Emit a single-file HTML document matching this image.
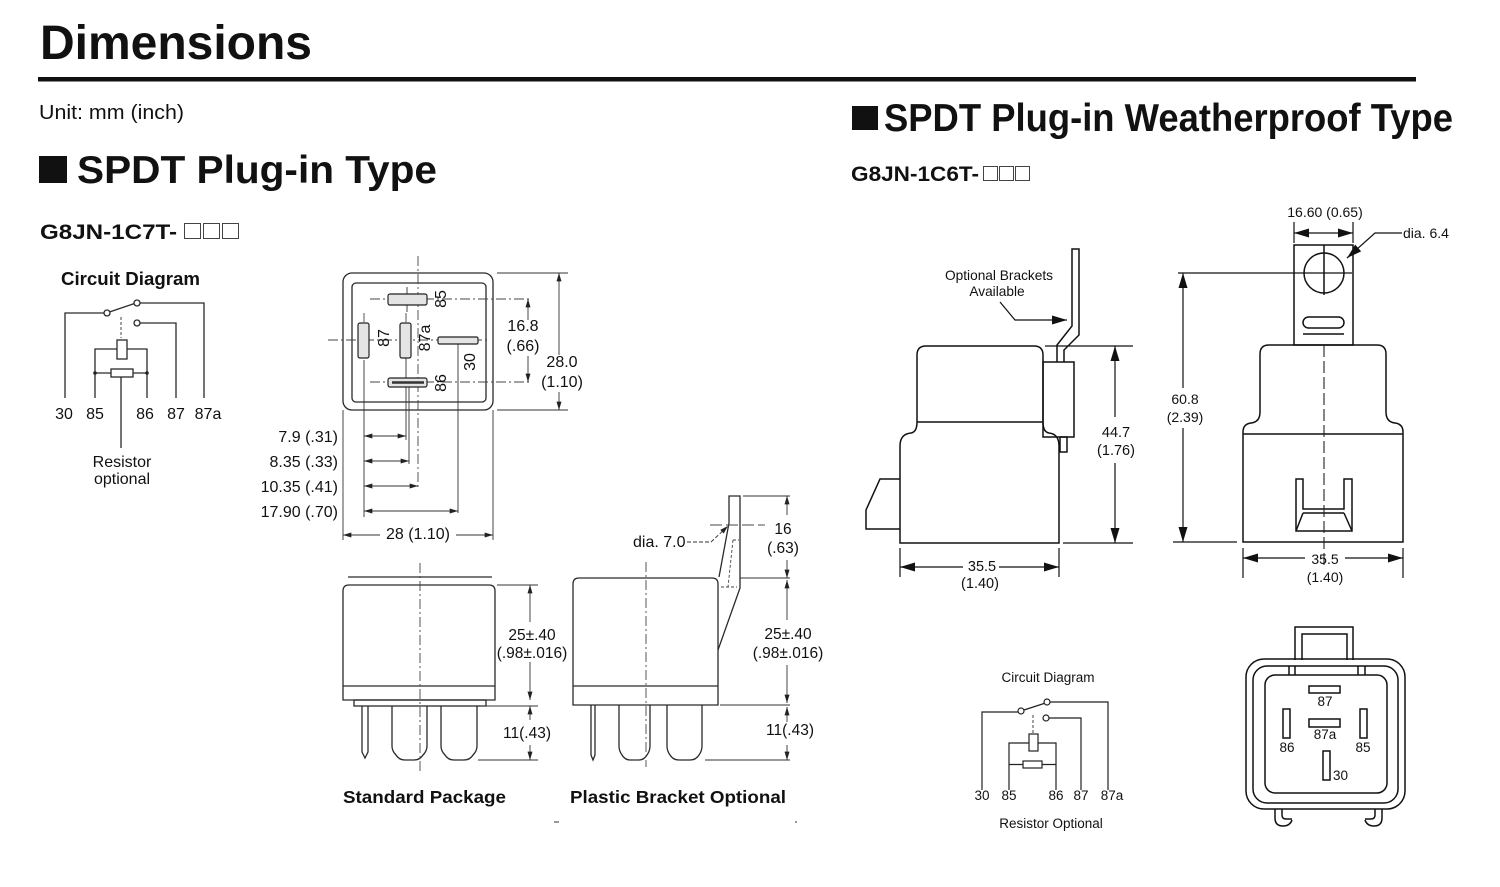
<!DOCTYPE html>
<html><head><meta charset="utf-8"><style>
html,body{margin:0;padding:0;background:#fff;}
svg{display:block;}
text{font-family:"Liberation Sans",Arial,sans-serif;fill:#111;}
.b{font-weight:bold;}
.l{fill:none;stroke:#2a2a2a;stroke-width:1.3;}
.k{fill:none;stroke:#111;stroke-width:1.5;}
.t{fill:none;stroke:#333;stroke-width:0.9;}
.c{fill:none;stroke:#444;stroke-width:0.9;stroke-dasharray:10 3 2 3;}
.d{fill:none;stroke:#444;stroke-width:0.9;stroke-dasharray:4 3;}
.w{fill:#fff;}
.m{text-anchor:middle;}
.e{text-anchor:end;}
</style></head><body>
<svg width="1500" height="887" viewBox="0 0 1500 887" xmlns="http://www.w3.org/2000/svg">
<defs>
<marker id="a" viewBox="0 0 10 6" refX="10" refY="3" markerWidth="9" markerHeight="5" orient="auto-start-reverse" markerUnits="userSpaceOnUse"><path d="M0,0L10,3L0,6z" fill="#222"/></marker>
<marker id="A" viewBox="0 0 10 6" refX="10" refY="3" markerWidth="17" markerHeight="9" orient="auto-start-reverse" markerUnits="userSpaceOnUse"><path d="M0,0L10,3L0,6z" fill="#111"/></marker>
</defs>

<!-- Headers -->
<text x="40" y="59" font-size="48" class="b" textLength="272" lengthAdjust="spacingAndGlyphs">Dimensions</text>
<rect x="38" y="77" width="1378" height="4.5" fill="#111"/>
<text x="39" y="119" font-size="20" textLength="145" lengthAdjust="spacingAndGlyphs">Unit: mm (inch)</text>
<rect x="39" y="156" width="28" height="27" fill="#111"/>
<text x="77" y="183" font-size="39" class="b" textLength="360" lengthAdjust="spacingAndGlyphs">SPDT Plug-in Type</text>
<text x="40" y="239" font-size="21" class="b" textLength="137" lengthAdjust="spacingAndGlyphs">G8JN-1C7T-</text>
<g fill="none" stroke="#444" stroke-width="1"><rect x="184.5" y="223.5" width="16" height="15"/><rect x="203.5" y="223.5" width="16" height="15"/><rect x="222.5" y="223.5" width="16" height="15"/></g>

<rect x="852" y="106" width="26" height="24" fill="#111"/>
<text x="884" y="131" font-size="39" class="b" textLength="569" lengthAdjust="spacingAndGlyphs">SPDT Plug-in Weatherproof Type</text>
<text x="851" y="181" font-size="21" class="b" textLength="128" lengthAdjust="spacingAndGlyphs">G8JN-1C6T-</text>
<g fill="none" stroke="#444" stroke-width="1"><rect x="983.5" y="166.5" width="14" height="14"/><rect x="999.5" y="166.5" width="14" height="14"/><rect x="1015.5" y="166.5" width="14" height="14"/></g>

<!-- Left circuit diagram -->
<text x="61" y="285" font-size="18.5" class="b" textLength="139" lengthAdjust="spacingAndGlyphs">Circuit Diagram</text>
<g class="l">
<path d="M65,398V313H104"/>
<path d="M109.5,312L134.5,303.5"/>
<path d="M140,303H204V398"/>
<path d="M140,323H176V398"/>
<path d="M95,398V349H147V398"/>
<path d="M95,373H147"/>
<path d="M121,377V448"/>
</g>
<path d="M121,317V338" stroke="#444" stroke-width="1" stroke-dasharray="3 2"/>
<g class="l w">
<circle cx="107" cy="313" r="3"/>
<circle cx="137" cy="303" r="3"/>
<circle cx="137" cy="323" r="3"/>
<rect x="117" y="340" width="10" height="19"/>
<rect x="111" y="369" width="22" height="8"/>
</g>
<circle cx="95" cy="373" r="1.8" fill="#222"/><circle cx="147" cy="373" r="1.8" fill="#222"/>
<g font-size="16" class="m">
<text x="64" y="419">30</text><text x="95" y="419">85</text><text x="145" y="419">86</text><text x="176" y="419">87</text><text x="208" y="419">87a</text>
<text x="122" y="467">Resistor</text><text x="122" y="484">optional</text>
</g>

<!-- Top view relay -->
<g class="l">
<rect x="343" y="273" width="150" height="137" rx="9"/>
<rect x="352" y="283" width="134" height="119" rx="4"/>
</g>
<g class="c">
<path d="M328,340H490"/>
<path d="M418,256V490"/>
<path d="M370,299H532"/>
<path d="M370,382H532"/>
<path d="M364,313V322"/>
<path d="M406,313V322"/>
</g>
<g class="t">
<path d="M364,360V517"/>
<path d="M406,358V440"/>
<path d="M409,385V464"/>
<path d="M458,344V513"/>
<path d="M407,287V312"/>
<path d="M343,410V540"/>
<path d="M493,410V540"/>
<path d="M497,273H568"/>
<path d="M497,410H568"/>
</g>
<g stroke="#222" stroke-width="1.2" fill="#e4e4e4">
<rect x="388" y="294" width="39" height="11" rx="2"/>
<rect x="358" y="323" width="11" height="35" rx="2"/>
<rect x="400" y="323" width="11" height="35" rx="2"/>
<rect x="438" y="337" width="40" height="7" rx="1.5"/>
<rect x="388" y="378" width="39" height="9" rx="2"/>
</g>
<path d="M392,382.5H424" stroke="#333" stroke-width="2.5"/>
<g font-size="16" class="m">
<text transform="translate(446,299) rotate(-90)">85</text>
<text transform="translate(389,338) rotate(-90)">87</text>
<text transform="translate(430,338) rotate(-90)">87a</text>
<text transform="translate(475,362) rotate(-90)">30</text>
<text transform="translate(446,383) rotate(-90)">86</text>
</g>
<g class="t">
<path d="M528,320V299" marker-end="url(#a)"/>
<path d="M528,356V382" marker-end="url(#a)"/>
<path d="M559,355V273" marker-end="url(#a)"/>
<path d="M559,392V410" marker-end="url(#a)"/>
<path d="M364,436H406" marker-start="url(#a)" marker-end="url(#a)"/>
<path d="M364,461H409" marker-start="url(#a)" marker-end="url(#a)"/>
<path d="M364,486H418" marker-start="url(#a)" marker-end="url(#a)"/>
<path d="M364,511H458" marker-start="url(#a)" marker-end="url(#a)"/>
<path d="M380,535H343" marker-end="url(#a)"/>
<path d="M456,535H493" marker-end="url(#a)"/>
</g>
<g font-size="16">
<text x="523" y="331" class="m">16.8</text>
<text x="523" y="351" class="m">(.66)</text>
<text x="562" y="367" class="m">28.0</text>
<text x="562" y="387" class="m">(1.10)</text>
<text x="338" y="442" class="e">7.9 (.31)</text>
<text x="338" y="467" class="e">8.35 (.33)</text>
<text x="338" y="492" class="e">10.35 (.41)</text>
<text x="338" y="517" class="e">17.90 (.70)</text>
<text x="418" y="539" class="m">28 (1.10)</text>
</g>

<!-- Standard package -->
<g class="l">
<path d="M348,577H492"/>
<path d="M343,700V591Q343,585 349,585H489Q495,585 495,591V700Z"/>
<path d="M343,686H495"/>
<rect x="354" y="700" width="132" height="6"/>
<path d="M362,706V752L365,758L368,752V706"/>
<path d="M392,706V746Q392,751 396,755Q399,760 405,760H414Q420,760 423,755Q427,751 427,746V706"/>
<path d="M441,706V746Q441,751 445,755Q448,760 454,760H464Q470,760 473,755Q477,751 477,746V706"/>
</g>
<path class="c" d="M420,563V772"/>
<g class="t">
<path d="M497,585H538"/><path d="M480,706H538"/><path d="M478,760H538"/>
<path d="M530,622V585" marker-end="url(#a)"/>
<path d="M530,662V700" marker-end="url(#a)"/>
<path d="M530,720V706" marker-end="url(#a)"/>
<path d="M530,745V760" marker-end="url(#a)"/>
</g>
<g font-size="15.5" class="m">
<text x="532" y="640">25±.40</text>
<text x="532" y="658">(.98±.016)</text>
<text x="527" y="738">11(.43)</text>
</g>
<text x="343" y="803" font-size="17.6" class="b" textLength="163" lengthAdjust="spacingAndGlyphs">Standard Package</text>

<!-- Plastic bracket -->
<g class="l">
<path d="M573,705V584Q573,578 579,578H712Q718,578 718,584V705Z"/>
<path d="M573,686H718"/>
<path d="M591,705V755L593,760L595,755V705"/>
<path d="M619,705V746Q619,751 622,755Q625,760 630,760H639Q644,760 647,755Q650,751 650,746V705"/>
<path d="M667,705V746Q667,751 670,755Q673,760 679,760H690Q696,760 699,755Q702,751 702,746V705"/>
<path d="M718,650L740,588V496H729V523L719,577"/>
</g>
<path d="M733,540H739M733,540L728,587M721,587H737" fill="none" stroke="#444" stroke-width="0.9" stroke-dasharray="3 2"/>
<path class="c" d="M646,562V767"/>
<path d="M710,525H765" fill="none" stroke="#444" stroke-width="0.9" stroke-dasharray="12 4"/>
<g class="t">
<path d="M743,496H790"/><path d="M740,578H790"/><path d="M720,705H790"/><path d="M705,760H790"/>
<path d="M787,515V496" marker-end="url(#a)"/>
<path d="M787,560V578" marker-end="url(#a)"/>
<path d="M787,620V580" marker-end="url(#a)"/>
<path d="M787,665V703" marker-end="url(#a)"/>
<path d="M787,722V707" marker-end="url(#a)"/>
<path d="M787,745V760" marker-end="url(#a)"/>
<path d="M687,542H711L728,526" marker-end="url(#a)" stroke-dasharray="4 2"/>
</g>
<g font-size="15.5" class="m">
<text x="783" y="534">16</text>
<text x="783" y="553">(.63)</text>
<text x="788" y="639">25±.40</text>
<text x="788" y="658">(.98±.016)</text>
<text x="790" y="735">11(.43)</text>
</g>
<text x="633" y="547" font-size="16">dia. 7.0</text>
<text x="570" y="803" font-size="17.6" class="b" textLength="216" lengthAdjust="spacingAndGlyphs">Plastic Bracket Optional</text>
<path d="M554,822H559M795,822H797" stroke="#333" stroke-width="1"/>

<!-- Weatherproof side view -->
<g font-size="13.7" class="m">
<text x="999" y="280">Optional Brackets</text>
<text x="997" y="296">Available</text>
</g>
<g class="k">
<path d="M900,543L900,446Q900,434 911,433Q917,432 917,422L917,355Q917,346 926,346L1034,346Q1043,346 1043,355L1043,422Q1043,432 1049,433Q1059,434 1059,446L1059,543Z"/>
<path d="M917,422H1043"/>
<rect x="1043" y="362" width="31" height="75"/>
<rect x="1060" y="437" width="7" height="15"/>
<path d="M1057,362V345L1072,326V249H1079V335L1064,350V362"/>
<path d="M900,479H880L866,510V529H900"/>
</g>
<g stroke="#111" stroke-width="1.2" fill="none">
<path d="M1000,302L1015,320H1067" marker-end="url(#A)"/>
<path d="M1045,346H1133"/><path d="M1063,543H1133"/>
<path d="M1115,417V346" marker-end="url(#A)"/>
<path d="M1115,463V543" marker-end="url(#A)"/>
<path d="M900,548V577"/><path d="M1059,548V577"/>
<path d="M963,567H900" marker-end="url(#A)"/>
<path d="M999,567H1059" marker-end="url(#A)"/>
</g>
<g font-size="14.5" class="m">
<text x="1116" y="437">44.7</text>
<text x="1116" y="455">(1.76)</text>
<text x="982" y="571">35.5</text>
<text x="980" y="588">(1.40)</text>
</g>

<!-- Weatherproof front view -->
<g class="k">
<rect x="1294" y="245" width="59" height="100"/>
<circle cx="1324" cy="273" r="20"/>
<path d="M1324,245V295"/>
<rect x="1303" y="317" width="41" height="11" rx="5.5"/>
<path d="M1303,334H1344"/>
<path d="M1243,542L1243,432Q1243,424 1251,423Q1260,422 1260,412L1260,354Q1260,345 1269,345L1377,345Q1386,345 1386,354L1386,412Q1386,422 1395,423Q1403,424 1403,432L1403,542Z"/>
<path d="M1243,434H1403"/>
<path d="M1296,479V531H1352V479H1344V509H1303V479Z"/>
<path d="M1303,513H1344M1303,513L1296,531M1344,513L1352,531"/>
</g>
<path d="M1324,345V568" fill="none" stroke="#222" stroke-width="1.1" stroke-dasharray="12 4"/>
<g stroke="#111" stroke-width="1.2" fill="none">
<path d="M1178,273H1352"/>
<path d="M1173,542H1237"/>
<path d="M1183,388V273" marker-end="url(#A)"/>
<path d="M1183,428V542" marker-end="url(#A)"/>
<path d="M1294,222V243"/><path d="M1353,222V243"/>
<path d="M1294,233H1353" marker-start="url(#A)" marker-end="url(#A)"/>
<path d="M1402,233H1375L1347,258" marker-end="url(#A)"/>
<path d="M1243,548V578"/><path d="M1403,548V578"/>
<path d="M1305,558H1243" marker-end="url(#A)"/>
<path d="M1345,558H1403" marker-end="url(#A)"/>
</g>
<g font-size="14" class="m">
<text x="1325" y="217">16.60 (0.65)</text>
<text x="1185" y="404">60.8</text>
<text x="1185" y="422">(2.39)</text>
<text x="1325" y="564">35.5</text>
<text x="1325" y="582">(1.40)</text>
</g>
<text x="1403" y="238" font-size="14">dia. 6.4</text>

<!-- Right circuit diagram -->
<text x="1048" y="682" font-size="13.5" class="m">Circuit Diagram</text>
<g stroke="#222" stroke-width="1.2" fill="none">
<path d="M982,790V712H1018"/>
<path d="M1024,710L1044,703.5"/>
<path d="M1050,702H1108V790"/>
<path d="M1049,718H1081V790"/>
<path d="M1009,790V743H1056V790"/>
<path d="M1009,764.5H1056"/>
</g>
<path d="M1033,715V734" stroke="#444" stroke-width="1" stroke-dasharray="3 2"/>
<g stroke="#222" stroke-width="1.2" fill="#fff">
<circle cx="1021" cy="711" r="3"/>
<circle cx="1047" cy="702" r="3"/>
<circle cx="1046" cy="718" r="3"/>
<rect x="1029" y="734" width="9" height="17"/>
<rect x="1023" y="761" width="19" height="7"/>
</g>
<g font-size="13.5" class="m">
<text x="982" y="800">30</text><text x="1009" y="800">85</text><text x="1056" y="800">86</text><text x="1081" y="800">87</text><text x="1112" y="800">87a</text>
<text x="1051" y="828">Resistor Optional</text>
</g>

<!-- Connector view -->
<g class="k">
<path d="M1295,660V627H1353V660"/>
<path d="M1302,660V634H1347V660"/>
<rect x="1246" y="659" width="159" height="150" rx="18"/>
<rect x="1253" y="666" width="145" height="137" rx="14"/>
<rect x="1265" y="675" width="122" height="118" rx="10"/>
<path d="M1289,666V675M1295,666V675M1358,666V675M1365,666V675"/>
<rect x="1309" y="686" width="31" height="7"/>
<rect x="1309" y="719" width="31" height="8"/>
<rect x="1283" y="709" width="7" height="29"/>
<rect x="1360" y="709" width="7" height="29"/>
<rect x="1323" y="751" width="7" height="29"/>
<path d="M1275,809V818Q1275,826 1283,826Q1290,826 1292,820M1282,809V815Q1282,819 1286,819H1292"/>
<path d="M1382,809V818Q1382,826 1374,826Q1367,826 1365,820M1375,809V815Q1375,819 1371,819H1365"/>
</g>
<g font-size="13.5">
<text x="1325" y="706" class="m">87</text>
<text x="1325" y="739" class="m">87a</text>
<text x="1287" y="752" class="m">86</text>
<text x="1363" y="752" class="m">85</text>
<text x="1333" y="780">30</text>
</g>
</svg>
</body></html>
